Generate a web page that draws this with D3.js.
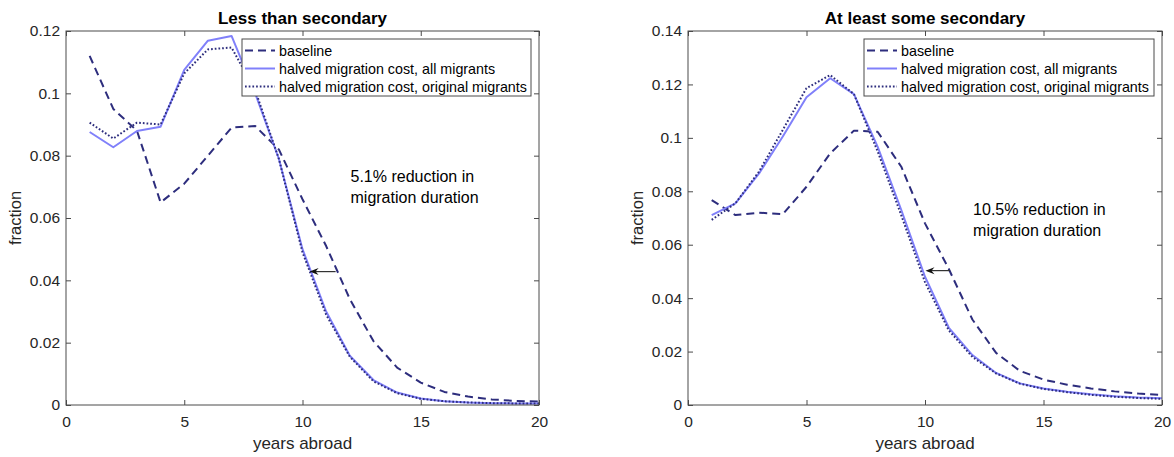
<!DOCTYPE html>
<html>
<head>
<meta charset="utf-8">
<script src="https://cdn.jsdelivr.net/npm/d3@7"></script>
<style>
  body { margin: 0; background: #fff; }
  svg { font-family: "Liberation Sans", Arial, sans-serif; }
</style>
</head>
<body>
<svg id="chart"></svg>
<script>
const years = d3.range(1, 21);

const seriesNames = [
  "baseline",
  "halved migration cost, all migrants",
  "halved migration cost, original migrants"
];

// Less than secondary
const lessBaseline = [0.112, 0.095, 0.088, 0.065, 0.071, 0.080, 0.089, 0.0895, 0.082, 0.066, 0.051, 0.034, 0.0205, 0.012, 0.0072, 0.0042, 0.0027, 0.0018, 0.0013, 0.0011];
const lessAll = [0.0876, 0.0827, 0.0879, 0.0893, 0.1075, 0.1169, 0.1184, 0.100, 0.079, 0.050, 0.030, 0.0158, 0.0080, 0.0040, 0.0021, 0.0012, 0.0008, 0.0006, 0.0005, 0.0005];
const lessOrig = [0.0906, 0.0855, 0.0906, 0.0900, 0.1064, 0.1141, 0.1147, 0.101, 0.079, 0.049, 0.029, 0.0155, 0.0076, 0.0038, 0.0020, 0.0012, 0.0008, 0.0006, 0.0005, 0.0005];

// At least some secondary
const someBaseline = [0.0767, 0.0711, 0.0720, 0.0714, 0.0817, 0.0942, 0.1027, 0.1023, 0.0892, 0.068, 0.051, 0.032, 0.0195, 0.0128, 0.0095, 0.0076, 0.0062, 0.0051, 0.0043, 0.0037];
const someAll = [0.0711, 0.0755, 0.0867, 0.1005, 0.1152, 0.1223, 0.1164, 0.0967, 0.073, 0.048, 0.029, 0.0187, 0.0120, 0.0081, 0.0062, 0.0050, 0.0040, 0.0033, 0.0028, 0.0025];
const someOrig = [0.0693, 0.0755, 0.0874, 0.1030, 0.1186, 0.1235, 0.1164, 0.0950, 0.071, 0.046, 0.028, 0.0180, 0.0118, 0.0080, 0.0060, 0.0048, 0.0038, 0.0031, 0.0026, 0.0023];

const xTicks = [0, 5, 10, 15, 20];
const lessYTicks = [0, 0.02, 0.04, 0.06, 0.08, 0.1, 0.12];
const someYTicks = [0, 0.02, 0.04, 0.06, 0.08, 0.1, 0.12, 0.14];

const panels = [
  {
    title: "Less than secondary",
    left: 66, right: 539, yMax: 0.12, yTicks: lessYTicks,
    series: [lessBaseline, lessAll, lessOrig],
    note: ["5.1% reduction in", "migration duration"],
    arrow: { y: 0.0428, from: 11.4, to: 10.3 }
  },
  {
    title: "At least some secondary",
    left: 688, right: 1162, yMax: 0.14, yTicks: someYTicks,
    series: [someBaseline, someAll, someOrig],
    note: ["10.5% reduction in", "migration duration"],
    arrow: { y: 0.0503, from: 11.06, to: 10.02 }
  }
];

const styles = [
  { color: "#2d2d7d", dash: "8,5", width: 2 },
  { color: "#8080fa", dash: null, width: 2 },
  { color: "#2d2d7d", dash: "1.7,2", width: 2 }
];

const width = 1174;
const height = 457;
const plotTop = 31;
const plotBottom = 405;
const axisColor = "#4a4a4a";
const textColor = "#262626";

const svg = d3.select("#chart")
  .attr("width", width)
  .attr("height", height);

panels.forEach(p => {
  const x = d3.scaleLinear().domain([0, 20]).range([p.left, p.right]);
  const y = d3.scaleLinear().domain([0, p.yMax]).range([plotBottom, plotTop]);
  const g = svg.append("g");

  const xAxis = g.append("g")
    .attr("transform", `translate(0, ${plotBottom})`)
    .call(d3.axisBottom(x).tickValues(xTicks).tickSizeInner(-5).tickSizeOuter(0).tickPadding(11));
  const xTop = g.append("g")
    .attr("transform", `translate(0, ${plotTop})`)
    .call(d3.axisTop(x).tickValues(xTicks).tickSizeInner(-5).tickSizeOuter(0).tickFormat(""));
  const yAxis = g.append("g")
    .attr("transform", `translate(${p.left}, 0)`)
    .call(d3.axisLeft(y).tickValues(p.yTicks).tickSizeInner(-5).tickSizeOuter(0).tickPadding(6).tickFormat(d => String(+d.toFixed(2))));
  const yRight = g.append("g")
    .attr("transform", `translate(${p.right}, 0)`)
    .call(d3.axisRight(y).tickValues(p.yTicks).tickSizeInner(-5).tickSizeOuter(0).tickFormat(""));

  [xAxis, xTop, yAxis, yRight].forEach(a => {
    a.select(".domain").remove();
    a.selectAll(".tick line").attr("stroke", axisColor);
    a.selectAll(".tick text")
      .attr("fill", textColor)
      .attr("font-size", 15.5)
      .attr("font-family", "Liberation Sans, Arial, sans-serif");
  });

  g.append("text")
    .attr("x", (p.left + p.right) / 2).attr("y", 24)
    .attr("text-anchor", "middle")
    .attr("font-size", 17).attr("font-weight", "bold")
    .attr("fill", "#000")
    .text(p.title);

  g.append("text")
    .attr("x", (p.left + p.right) / 2).attr("y", 449)
    .attr("text-anchor", "middle")
    .attr("font-size", 17).attr("fill", textColor)
    .text("years abroad");

  g.append("text")
    .attr("transform", `translate(${p.left - 45}, ${(plotTop + plotBottom) / 2}) rotate(-90)`)
    .attr("text-anchor", "middle")
    .attr("font-size", 16.5).attr("fill", textColor)
    .text("fraction");

  const line = d3.line()
    .x((d, i) => x(years[i]))
    .y(d => y(d));

  p.series.forEach((s, k) => {
    g.append("path")
      .datum(s)
      .attr("d", line)
      .attr("fill", "none")
      .attr("stroke", styles[k].color)
      .attr("stroke-width", styles[k].width)
      .attr("stroke-dasharray", styles[k].dash)
      .attr("stroke-linejoin", "round");
  });

  // box on top of lines
  g.append("rect")
    .attr("x", p.left).attr("y", plotTop)
    .attr("width", p.right - p.left).attr("height", plotBottom - plotTop)
    .attr("fill", "none").attr("stroke", axisColor).attr("stroke-width", 1);

  // annotation
  p.note.forEach((t, i) => {
    g.append("text")
      .attr("x", x(12.03))
      .attr("y", y(0.0734) + i * 21)
      .attr("dy", "0.35em")
      .attr("font-size", 16).attr("fill", "#000")
      .text(t);
  });

  const ay = y(p.arrow.y);
  const tip = x(p.arrow.to);
  g.append("line")
    .attr("x1", x(p.arrow.from)).attr("y1", ay)
    .attr("x2", tip + 4).attr("y2", ay)
    .attr("stroke", "#333").attr("stroke-width", 1.2);
  g.append("path")
    .attr("d", `M${tip},${ay} L${tip + 9},${ay - 3.5} L${tip + 6},${ay} L${tip + 9},${ay + 3.5} Z`)
    .attr("fill", "#111");

  // legend
  const lx = p.left + 176;
  const lw = p.right - 8 - lx;
  const legend = g.append("g").attr("transform", `translate(${lx}, 39)`);
  legend.append("rect")
    .attr("width", lw).attr("height", 57)
    .attr("fill", "#fff").attr("stroke", axisColor).attr("stroke-width", 1);
  seriesNames.forEach((name, k) => {
    const ly = 11.5 + k * 18;
    legend.append("line")
      .attr("x1", 3).attr("x2", 33)
      .attr("y1", ly).attr("y2", ly)
      .attr("stroke", styles[k].color)
      .attr("stroke-width", styles[k].width)
      .attr("stroke-dasharray", styles[k].dash);
    legend.append("text")
      .attr("x", 37).attr("y", ly)
      .attr("dy", "0.35em")
      .attr("font-size", 14.3).attr("fill", "#000")
      .text(name);
  });
});
</script>
</body>
</html>
